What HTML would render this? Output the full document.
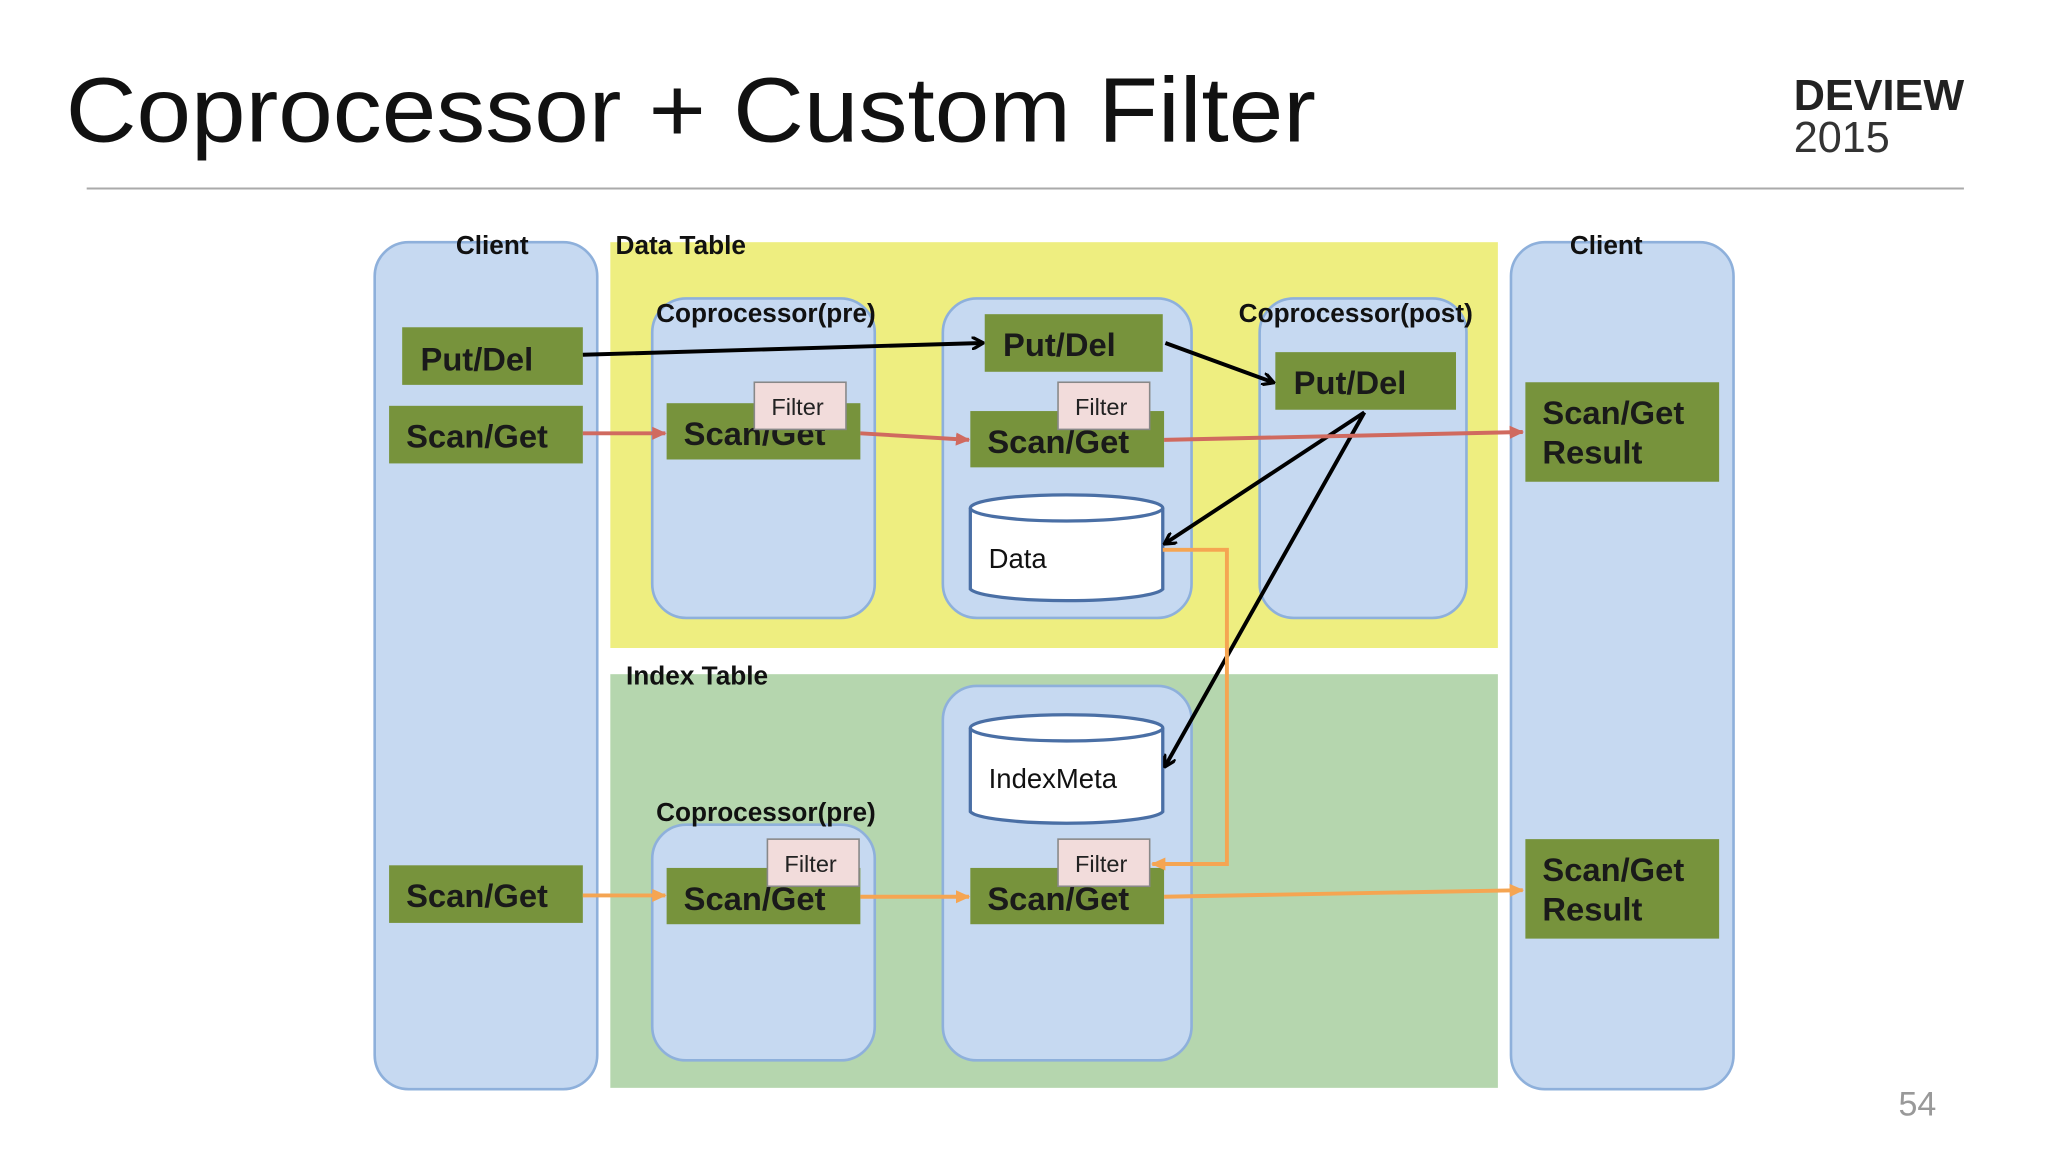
<!DOCTYPE html>
<html><head><meta charset="utf-8"><style>
html,body{margin:0;padding:0;background:#fff;width:2048px;height:1152px;overflow:hidden}
svg{display:block}
text{font-family:"Liberation Sans",sans-serif}
.g{fill:#77933c}
.gt{font-weight:bold;font-size:25px;fill:#1a1a1a}
.lb{font-weight:bold;font-size:20px;fill:#111}
.box{fill:#c6d9f1;stroke:#8eb0db;stroke-width:2}
.f{fill:#f2dcdb;stroke:#888;stroke-width:1.2}
.ft{font-size:18px;fill:#222}
</style></head><body>
<svg width="2048" height="1152" viewBox="0 0 1564 880" xmlns="http://www.w3.org/2000/svg">
<defs>
<marker id="ak" markerWidth="10" markerHeight="10" refX="8" refY="5" orient="auto" markerUnits="userSpaceOnUse"><path d="M0,0 L9,5 L0,10" fill="none" stroke="#000" stroke-width="2.5"/></marker>
<marker id="ar" markerWidth="12" markerHeight="12" refX="10" refY="6" orient="auto" markerUnits="userSpaceOnUse"><path d="M0,1 L11,6 L0,11 z" fill="#d06a5f"/></marker>
<marker id="ao" markerWidth="12" markerHeight="12" refX="10" refY="6" orient="auto" markerUnits="userSpaceOnUse"><path d="M0,1 L11,6 L0,11 z" fill="#f5a552"/></marker>
</defs>
<text x="50" y="108" font-size="70" fill="#111" textLength="955" lengthAdjust="spacingAndGlyphs">Coprocessor + Custom Filter</text>
<text x="1370" y="84" font-size="33" font-weight="bold" fill="#222">DEVIEW</text>
<text x="1370" y="116" font-size="33" fill="#333">2015</text>
<line x1="66" y1="144" x2="1500" y2="144" stroke="#aaa" stroke-width="1.5"/>
<text x="1450" y="852" font-size="26" fill="#999">54</text>

<rect x="466" y="185" width="678" height="310" fill="#eeee80"/>
<rect x="466" y="515" width="678" height="316" fill="#b5d6ae"/>
<rect class="box" x="286" y="185" width="170" height="647" rx="26"/>
<rect class="box" x="1154" y="185" width="170" height="647" rx="26"/>
<rect class="box" x="498" y="228" width="170" height="244" rx="26"/>
<rect class="box" x="720" y="228" width="190" height="244" rx="26"/>
<rect class="box" x="962" y="228" width="158" height="244" rx="26"/>
<rect class="box" x="498" y="630" width="170" height="180" rx="26"/>
<rect class="box" x="720" y="524" width="190" height="286" rx="26"/>

<text class="lb" x="348" y="194">Client</text>
<text class="lb" x="1199" y="194">Client</text>
<text class="lb" x="470" y="194">Data Table</text>
<text class="lb" x="478" y="523">Index Table</text>
<text class="lb" x="501" y="246">Coprocessor(pre)</text>
<text class="lb" x="946" y="246">Coprocessor(post)</text>
<text class="lb" x="501" y="627">Coprocessor(pre)</text>

<path d="M741,388 L741,450 A74,10 0 0 0 888,450 L888,388" fill="#fff" stroke="#4a6fa5" stroke-width="2.5"/>
<ellipse cx="814.5" cy="388" rx="73.5" ry="10" fill="#fff" stroke="#4a6fa5" stroke-width="2.5"/>
<text x="755" y="434" font-size="21" fill="#111">Data</text>
<path d="M741,556 L741,620 A74,10 0 0 0 888,620 L888,556" fill="#fff" stroke="#4a6fa5" stroke-width="2.5"/>
<ellipse cx="814.5" cy="556" rx="73.5" ry="10" fill="#fff" stroke="#4a6fa5" stroke-width="2.5"/>
<text x="755" y="602" font-size="21" fill="#111">IndexMeta</text>

<rect class="g" x="307" y="250" width="138" height="44"/><text class="gt" x="321" y="283">Put/Del</text>
<rect class="g" x="297" y="310" width="148" height="44"/><text class="gt" x="310" y="342">Scan/Get</text>
<rect class="g" x="509" y="308" width="148" height="43"/><text class="gt" x="522" y="340">Scan/Get</text>
<rect class="g" x="752" y="240" width="136" height="44"/><text class="gt" x="766" y="272">Put/Del</text>
<rect class="g" x="741" y="314" width="148" height="43"/><text class="gt" x="754" y="346">Scan/Get</text>
<rect class="g" x="974" y="269" width="138" height="44"/><text class="gt" x="988" y="301">Put/Del</text>
<rect class="g" x="1165" y="292" width="148" height="76"/><text class="gt" x="1178" y="324">Scan/Get</text><text class="gt" x="1178" y="354">Result</text>
<rect class="g" x="297" y="661" width="148" height="44"/><text class="gt" x="310" y="693">Scan/Get</text>
<rect class="g" x="509" y="663" width="148" height="43"/><text class="gt" x="522" y="695">Scan/Get</text>
<rect class="g" x="741" y="663" width="148" height="43"/><text class="gt" x="754" y="695">Scan/Get</text>
<rect class="g" x="1165" y="641" width="148" height="76"/><text class="gt" x="1178" y="673">Scan/Get</text><text class="gt" x="1178" y="703">Result</text>

<rect class="f" x="576" y="292" width="70" height="36"/><text class="ft" x="589" y="317">Filter</text>
<rect class="f" x="808" y="292" width="70" height="36"/><text class="ft" x="821" y="317">Filter</text>
<rect class="f" x="586" y="641" width="70" height="36"/><text class="ft" x="599" y="666">Filter</text>
<rect class="f" x="808" y="641" width="70" height="36"/><text class="ft" x="821" y="666">Filter</text>

<g fill="none" stroke-width="3">
<line x1="445" y1="271" x2="750" y2="262" stroke="#000" marker-end="url(#ak)"/>
<line x1="890" y1="262" x2="972" y2="292" stroke="#000" marker-end="url(#ak)"/>
<line x1="1042" y1="315" x2="890" y2="415" stroke="#000" marker-end="url(#ak)"/>
<line x1="1042" y1="315" x2="890" y2="585" stroke="#000" marker-end="url(#ak)"/>
<line x1="445" y1="331" x2="508" y2="331" stroke="#d06a5f" marker-end="url(#ar)"/>
<line x1="657" y1="331" x2="740" y2="336" stroke="#d06a5f" marker-end="url(#ar)"/>
<line x1="889" y1="336" x2="1163" y2="330" stroke="#d06a5f" marker-end="url(#ar)"/>
<polyline points="888,420 937,420 937,660 880,660" stroke="#f5a552" marker-end="url(#ao)"/>
<line x1="445" y1="684" x2="508" y2="684" stroke="#f5a552" marker-end="url(#ao)"/>
<line x1="657" y1="685" x2="740" y2="685" stroke="#f5a552" marker-end="url(#ao)"/>
<line x1="889" y1="685" x2="1163" y2="680" stroke="#f5a552" marker-end="url(#ao)"/>
</g>
</svg>
</body></html>
